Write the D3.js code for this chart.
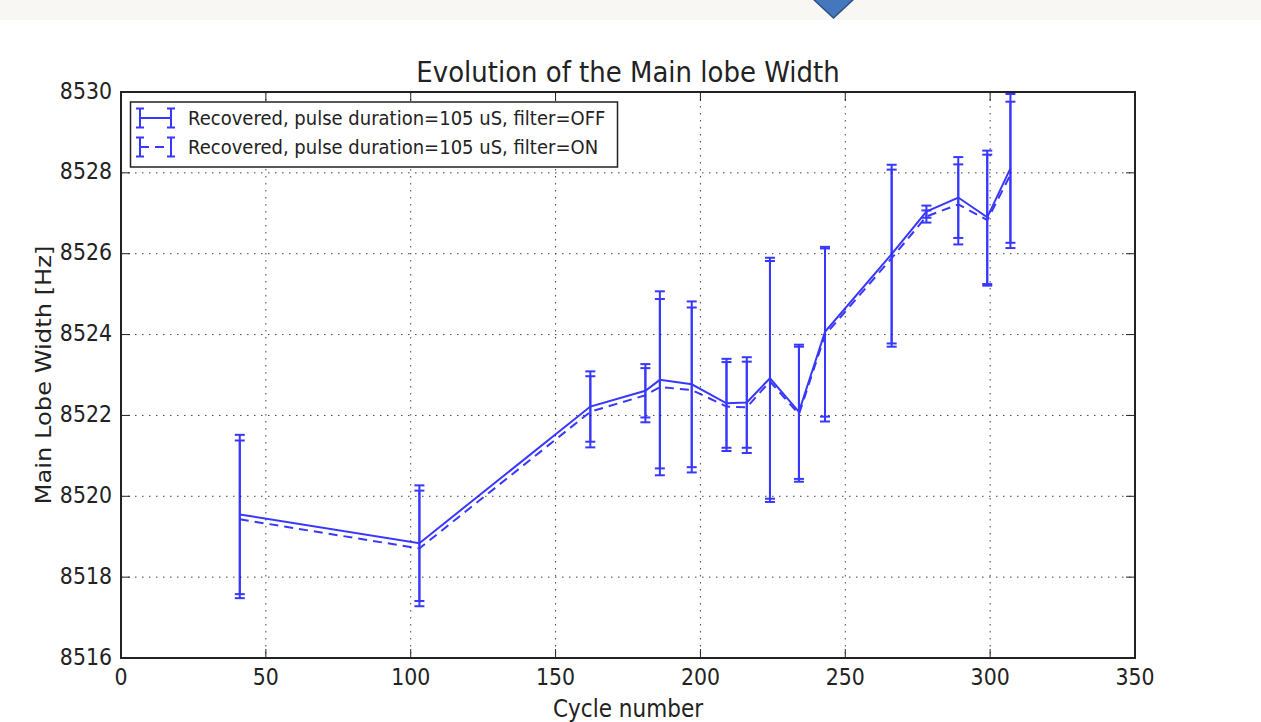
<!DOCTYPE html>
<html>
<head>
<meta charset="utf-8">
<script src="https://cdn.jsdelivr.net/npm/d3@7"></script>
<style>
  html, body { margin: 0; padding: 0; background: #ffffff; }
  text { font-family: "DejaVu Sans", sans-serif; fill: #222222; }
</style>
</head>
<body>
<div id="chart"></div>
<script>
// values
const cycles = [41, 103, 162, 181, 186, 197, 209, 216, 224, 234, 243, 266, 278, 289, 299, 307];
const widthOff = [8519.55, 8518.84, 8522.22, 8522.61, 8522.88, 8522.77, 8522.30, 8522.32, 8522.92, 8522.09, 8524.07, 8525.99, 8527.04, 8527.39, 8526.90, 8528.11];
const errOff = [1.97, 1.43, 0.87, 0.66, 2.19, 2.05, 1.10, 1.12, 2.98, 1.66, 2.10, 2.21, 0.15, 1.00, 1.65, 1.84];
const widthOn = [8519.43, 8518.71, 8522.09, 8522.50, 8522.70, 8522.63, 8522.22, 8522.20, 8522.84, 8522.03, 8523.99, 8525.89, 8526.92, 8527.22, 8526.83, 8527.95];
const errOn = [1.95, 1.43, 0.88, 0.67, 2.18, 2.04, 1.10, 1.13, 2.98, 1.67, 2.14, 2.19, 0.15, 0.99, 1.62, 1.81];
const xTicks = [0, 50, 100, 150, 200, 250, 300, 350];
const yTicks = [8516, 8518, 8520, 8522, 8524, 8526, 8528, 8530];
const seriesLabels = [
    'Recovered, pulse duration=105 uS, filter=OFF',
    'Recovered, pulse duration=105 uS, filter=ON'
];

const W = 1261, H = 722;
const mLeft = 121, mRight = 1135, mTop = 92, mBottom = 658;
const blue = '#0000ff';
const stretch = 1.12; // the picture is a bit taller than wide

const svg = d3.select('#chart')
    .append('svg')
    .attr('width', W)
    .attr('height', H);

// page strip at the top
svg.append('rect')
    .attr('x', 0).attr('y', 0)
    .attr('width', W).attr('height', 20)
    .attr('fill', '#f8f7f3');
svg.append('path')
    .attr('d', 'M812,-2 L855,-2 L833.5,18 Z')
    .attr('fill', '#4577bd')
    .attr('stroke', '#2d5088')
    .attr('stroke-width', 1.5);

const x = d3.scaleLinear().domain([0, 350]).range([mLeft, mRight]);
const y = d3.scaleLinear().domain([8516, 8530]).range([mBottom, mTop]);

function label(str, px, py, size, anchor, rotated) {
    return svg.append('text')
        .attr('transform', rotated
            ? `translate(${px},${py}) rotate(-90) scale(${stretch},1)`
            : `translate(${px},${py}) scale(1,${stretch})`)
        .attr('text-anchor', anchor)
        .style('font-size', size + 'px')
        .text(str);
}

// grid
const grid = svg.append('g')
    .attr('stroke', '#444')
    .attr('stroke-width', 1)
    .attr('stroke-dasharray', '1.5,5.5');
grid.selectAll('.gx')
    .data(xTicks.slice(1, -1))
    .enter().append('line')
    .attr('x1', d => x(d)).attr('x2', d => x(d))
    .attr('y1', mTop).attr('y2', mBottom);
grid.selectAll('.gy')
    .data(yTicks.slice(1, -1))
    .enter().append('line')
    .attr('x1', mLeft).attr('x2', mRight)
    .attr('y1', d => y(d)).attr('y2', d => y(d));

// ticks, inside on all four sides
const tl = 9;
const ticks = svg.append('g').attr('stroke', '#222').attr('stroke-width', 1);
xTicks.forEach(v => {
    ticks.append('line').attr('x1', x(v)).attr('x2', x(v)).attr('y1', mBottom).attr('y2', mBottom - tl);
    ticks.append('line').attr('x1', x(v)).attr('x2', x(v)).attr('y1', mTop).attr('y2', mTop + tl);
    label(String(v), x(v), mBottom + 27, 20.5, 'middle', false);
});
yTicks.forEach(v => {
    ticks.append('line').attr('x1', mLeft).attr('x2', mLeft + tl).attr('y1', y(v)).attr('y2', y(v));
    ticks.append('line').attr('x1', mRight).attr('x2', mRight - tl).attr('y1', y(v)).attr('y2', y(v));
    label(String(v), mLeft - 9, y(v) + 6.5, 20.5, 'end', false);
});

// data
const plot = svg.append('g').attr('opacity', 0.78);
const series = [
    { vals: widthOff, errs: errOff, dash: null },
    { vals: widthOn, errs: errOn, dash: '9,6' }
];
const capW = 5;

series.forEach(s => {
    const pts = cycles.map((c, i) => ({ c: c, v: s.vals[i], e: s.errs[i] }));
    const bars = plot.append('g').attr('stroke', blue).attr('stroke-width', 2);
    pts.forEach(p => {
        bars.append('line')
            .attr('x1', x(p.c)).attr('x2', x(p.c))
            .attr('y1', y(p.v - p.e)).attr('y2', y(p.v + p.e));
        [p.v - p.e, p.v + p.e].forEach(cv => {
            bars.append('line')
                .attr('x1', x(p.c) - capW).attr('x2', x(p.c) + capW)
                .attr('y1', y(cv)).attr('y2', y(cv));
        });
    });
    plot.append('path')
        .datum(pts)
        .attr('fill', 'none')
        .attr('stroke', blue)
        .attr('stroke-width', 2)
        .attr('stroke-dasharray', s.dash)
        .attr('d', d3.line().x(d => x(d.c)).y(d => y(d.v)));
});

// frame
svg.append('rect')
    .attr('x', mLeft).attr('y', mTop)
    .attr('width', mRight - mLeft).attr('height', mBottom - mTop)
    .attr('fill', 'none')
    .attr('stroke', '#222')
    .attr('stroke-width', 2);

// legend
const legend = svg.append('g');
legend.append('rect')
    .attr('x', 130.5).attr('y', 102)
    .attr('width', 487).attr('height', 65)
    .attr('fill', '#ffffff')
    .attr('stroke', '#222')
    .attr('stroke-width', 1.5);
const rows = [118, 147];
series.forEach((s, i) => {
    const cy = rows[i];
    const g = legend.append('g').attr('opacity', 0.78).attr('stroke', blue).attr('stroke-width', 2);
    g.append('line')
        .attr('x1', 140).attr('x2', 171)
        .attr('y1', cy).attr('y2', cy)
        .attr('stroke-dasharray', s.dash);
    [140, 171].forEach(bx => {
        g.append('line').attr('x1', bx).attr('x2', bx).attr('y1', cy - 9.5).attr('y2', cy + 9.5);
        g.append('line').attr('x1', bx - 4).attr('x2', bx + 4).attr('y1', cy - 9.5).attr('y2', cy - 9.5);
        g.append('line').attr('x1', bx - 4).attr('x2', bx + 4).attr('y1', cy + 9.5).attr('y2', cy + 9.5);
    });
    label(seriesLabels[i], 188, cy + 7, 18, 'start', false);
});

// titles
label('Evolution of the Main lobe Width', (mLeft + mRight) / 2, 82, 26, 'middle', false);
label('Cycle number', (mLeft + mRight) / 2, 717, 21.6, 'middle', false);
label('Main Lobe Width [Hz]', 51, (mTop + mBottom) / 2, 21.6, 'middle', true);
</script>
</body>
</html>
